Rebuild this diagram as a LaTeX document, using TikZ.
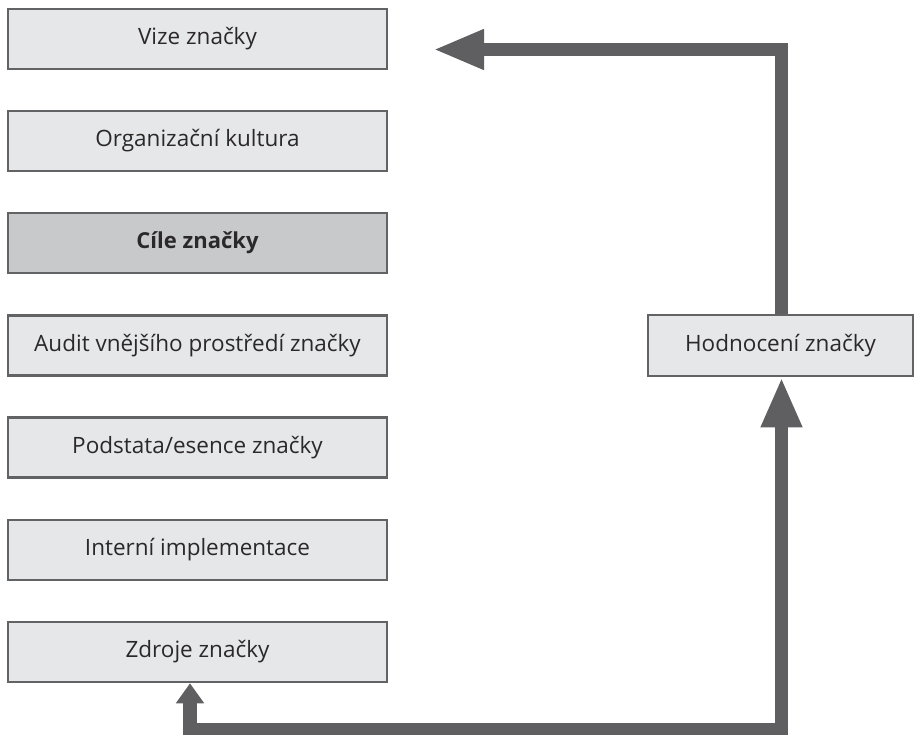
\documentclass[tikz,border=0pt]{standalone}
\usepackage{fontspec}
\setmainfont{Open Sans}
\usetikzlibrary{arrows.meta}
\definecolor{boxfill}{HTML}{E6E7E8}
\definecolor{boxdark}{HTML}{C8C9CB}
\definecolor{edge}{HTML}{626365}
\definecolor{conn}{HTML}{5F5F61}
\definecolor{txt}{HTML}{2B2829}
\begin{document}
\begin{tikzpicture}[x=1pt,y=-1pt,
  stagebox/.style={draw=edge, line width=2.5pt, fill=boxfill, minimum width=379pt, minimum height=60pt,
    inner sep=0pt, font=\fontsize{22.5}{26}\selectfont, text=txt},
  keybox/.style={stagebox, fill=boxdark, font=\fontsize{22}{26}\selectfont\bfseries},
  flow/.style={draw=conn, line width=13.5pt, line join=miter}
]
\useasboundingbox (0,0) rectangle (915,734);
\node[stagebox] (vize) at (197.5,39) {Vize značky};
\node[stagebox] (org) at (197.5,141) {Organizační kultura};
\node[keybox] (cile) at (197.5,243) {Cíle značky};
\node[stagebox] (audit) at (197.5,345.5) {Audit vnějšího prostředí značky};
\node[stagebox] (podst) at (197.5,447.5) {Podstata/esence značky};
\node[stagebox] (intern) at (197.5,550) {Interní implementace};
\node[stagebox] (zdroje) at (197.5,652) {Zdroje značky};
\node[stagebox, minimum width=265pt, minimum height=61pt] (hodn) at (780.5,345.5) {Hodnocení značky};
\coordinate (topend) at (433,49.5);
\coordinate (br) at (781.5,729.5);
\coordinate (bl) at (190,729.5);
\draw[flow, -{Triangle[length=51pt,width=37pt]}] (hodn.north -| br) |- (topend);
\draw[flow, {Triangle[length=20pt,width=27pt]}-{Triangle[length=50pt,width=38pt]}]
  (bl |- zdroje.south) -- (bl) -- (br) -- (hodn.south -| br);
\end{tikzpicture}
\end{document}
